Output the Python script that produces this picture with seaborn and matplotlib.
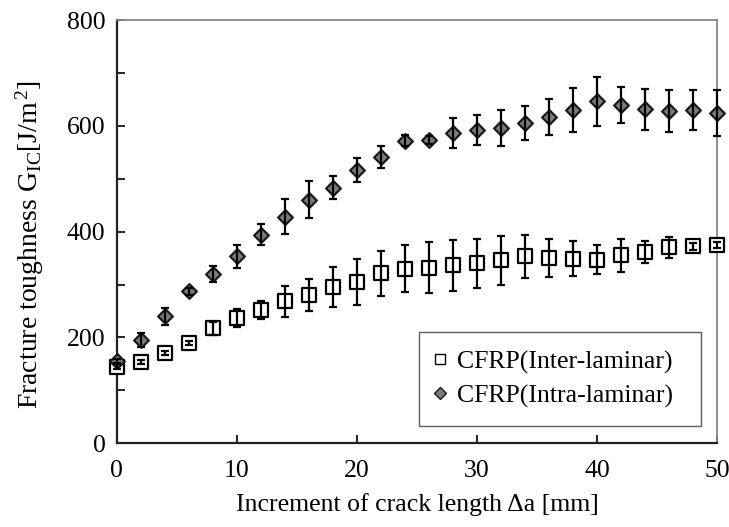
import numpy as np
import pandas as pd
import matplotlib
matplotlib.use("Agg")
import matplotlib.pyplot as plt
from matplotlib.lines import Line2D
from matplotlib.ticker import MultipleLocator
import seaborn as sns

# ---- data ----
crack_len = [0, 2, 4, 6, 8, 10, 12, 14, 16, 18, 20, 22, 24, 26, 28, 30,
             32, 34, 36, 38, 40, 42, 44, 46, 48, 50]
inter_mean = [145, 154, 170, 190, 217, 237, 251, 268, 280, 296, 305, 321, 330,
              332, 336, 340, 346, 353, 350, 349, 347, 355, 362, 370, 372, 375]
inter_err = [4, 4, 4, 4, 12, 17, 17, 30, 30, 38, 43, 42, 44, 48, 48, 46, 46,
             41, 36, 33, 28, 31, 21, 20, 6, 6]
intra_mean = [155, 195, 240, 287, 320, 353, 394, 428, 460, 483, 516, 541, 572,
              573, 586, 592, 596, 606, 617, 630, 646, 639, 631, 628, 630, 624]
intra_err = [4, 13, 16, 6, 15, 22, 20, 33, 35, 22, 23, 20, 10, 8, 28, 29, 34,
             32, 34, 42, 46, 34, 39, 40, 38, 43]
series_labels = ["CFRP(Inter-laminar)", "CFRP(Intra-laminar)"]
x_label = "Increment of crack length \u0394a [mm]"
y_label = r"Fracture toughness G$_{\mathrm{IC}}$[J/m$^{\,2}$]"

df = pd.DataFrame({
    "x": crack_len * 2,
    "y": inter_mean + intra_mean,
    "err": inter_err + intra_err,
    "series": [series_labels[0]] * len(crack_len) + [series_labels[1]] * len(crack_len),
})

sns.set_theme(style="white")
plt.rcParams["font.family"] = ["Liberation Serif", "DejaVu Serif"]
plt.rcParams["mathtext.fontset"] = "custom"
plt.rcParams["mathtext.rm"] = "Liberation Serif"
plt.rcParams["mathtext.it"] = "Liberation Serif:italic"

fig = plt.figure(figsize=(7.29, 5.27), dpi=100)
ax = fig.add_axes([0.160, 0.159, 0.824, 0.803])

sq_face, sq_edge = "white", "black"
di_face, di_edge = "#7a7a7a", "#1a1a1a"

d_inter = df[df.series == series_labels[0]]
d_intra = df[df.series == series_labels[1]]

sns.scatterplot(data=d_inter, x="x", y="y", marker="s", s=92, color=sq_face,
                edgecolor=sq_edge, linewidth=1.6, ax=ax, zorder=3, clip_on=False,
                legend=False)
sns.scatterplot(data=d_intra, x="x", y="y", marker="D", s=56, color=di_face,
                edgecolor=di_edge, linewidth=1.6, ax=ax, zorder=3, clip_on=False,
                legend=False)

for d in (d_inter, d_intra):
    ax.errorbar(d["x"], d["y"], yerr=d["err"], fmt="none", ecolor="black",
                elinewidth=1.6, capsize=3.0, capthick=1.6, zorder=4, clip_on=False)

ax.set_xlim(0, 50)
ax.set_ylim(0, 800)
ax.xaxis.set_major_locator(MultipleLocator(10))
ax.yaxis.set_major_locator(MultipleLocator(200))
ax.yaxis.set_minor_locator(MultipleLocator(100))
ax.tick_params(axis="both", which="both", direction="in", length=6, width=1.2,
               color="black", labelsize=18.5, labelcolor="black")
ax.tick_params(axis="x", pad=12)
ax.tick_params(axis="y", pad=8)
ax.tick_params(axis="y", which="minor", left=True)
ax.tick_params(axis="x", bottom=True)
ax.tick_params(axis="y", left=True)

for side in ("left", "bottom"):
    ax.spines[side].set_color("#222222")
    ax.spines[side].set_linewidth(1.6)
for side in ("top", "right"):
    ax.spines[side].set_color("#888888")
    ax.spines[side].set_linewidth(1.3)

ax.set_xlabel(x_label, fontsize=18.5, color="black", labelpad=8)
ax.set_ylabel(y_label, fontsize=20, color="black")
ax.yaxis.set_label_coords(-0.118, 0.47)

handles = [
    Line2D([], [], linestyle="none", marker="s", markersize=7.5,
           markerfacecolor=sq_face, markeredgecolor=sq_edge, markeredgewidth=1.0),
    Line2D([], [], linestyle="none", marker="D", markersize=6,
           markerfacecolor=di_face, markeredgecolor=di_edge, markeredgewidth=1.0),
]
leg = ax.legend(handles, series_labels, loc="lower left",
                bbox_to_anchor=(0.503, 0.040, 0.469, 0.222), mode="expand",
                fontsize=18.5, frameon=True, fancybox=False, borderpad=0.72,
                handlelength=0.2, handletextpad=0.55, labelspacing=0.42,
                borderaxespad=0)
leg.get_frame().set_edgecolor("#333333")
leg.get_frame().set_linewidth(1.0)
for t in leg.get_texts():
    t.set_color("black")

fig.savefig("out.png", dpi=100)
